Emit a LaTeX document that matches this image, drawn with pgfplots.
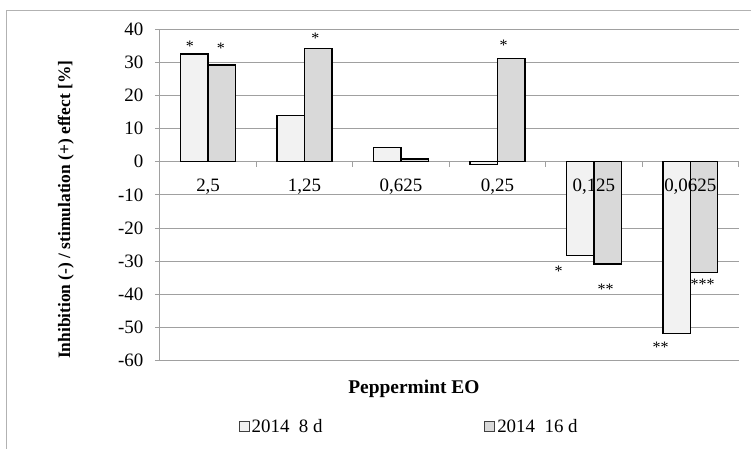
\documentclass[border=0pt]{standalone}
\usepackage{pgfplots}
\pgfplotsset{compat=1.18}
\usepackage{fontspec}
\setmainfont{Liberation Serif}
\definecolor{barA}{HTML}{F2F2F2}
\definecolor{barB}{HTML}{D9D9D9}
\definecolor{gridc}{HTML}{A0A0A0}
\pgfplotsset{
  geom/.style={at={(160bp,88bp)}, anchor=south west,
    scale only axis, width=579bp, height=332bp,
    xmin=-0.5, xmax=5.5, ymin=-60, ymax=40},
}
\begin{document}
\begin{tikzpicture}
\path (0,0) rectangle (751bp,449bp);
\draw[black!30, line width=1bp] (7bp,0) -- (7bp,438bp) -- (751bp,438bp);
\begin{axis}[
  geom,
  ytick={-60,-50,...,40},
  axis y line*=left, axis x line*=middle,
  axis line style={gridc, line width=0.9bp},
  ymajorgrids, grid style={gridc, line width=0.9bp},
  tick align=outside, major tick length=5bp,
  tick style={gridc, line width=0.9bp},
  xtick={0.5,1.5,2.5,3.5,4.5,5.5}, xticklabels={},
  tick label style={font=\fontsize{19}{22}\selectfont},
  yticklabel style={xshift=-8bp},
  /pgf/number format/assume math mode=true,
  ylabel={Inhibition (-) / stimulation (+) effect [\%]},
  ylabel style={font=\bfseries\fontsize{17.5}{20}\selectfont, at={(axis description cs:-0.1625,0.455)}, anchor=center},
  xlabel={Peppermint EO},
  xlabel style={font=\bfseries\fontsize{19.5}{22}\selectfont, at={(axis description cs:0.439,-0.084)}, anchor=center},
  legend style={draw=none, fill=none, at={(axis description cs:0.431,-0.199)}, anchor=center,
    legend columns=2, font=\fontsize{19}{22}\selectfont, inner sep=0pt,
    /tikz/every even column/.append style={column sep=160bp},
    cells={anchor=west}},
  legend cell align=left,
]
\addplot[ybar, bar width=27.5bp, bar shift=-13.75bp, fill=barA, draw=black, line width=1.4bp,
  legend image code/.code={\draw[fill=barA, draw=black!75, line width=0.8bp] (0bp,-5bp) rectangle (10bp,5bp);}]
  coordinates {(0,32.5) (1,13.9) (2,4.3) (3,-0.8) (4,-28.2) (5,-51.8)};
\addplot[ybar, bar width=27.5bp, bar shift=13.75bp, fill=barB, draw=black, line width=1.4bp,
  legend image code/.code={\draw[fill=barB, draw=black!75, line width=0.8bp] (0bp,-5bp) rectangle (10bp,5bp);}]
  coordinates {(0,29.1) (1,34.1) (2,0.8) (3,31.1) (4,-30.8) (5,-33.4)};
\addplot[forget plot, draw=none, mark=none, nodes near coords, point meta=explicit symbolic,
  nodes near coords style={anchor=center, font=\fontsize{16}{16}\selectfont, yshift=-1.5bp, inner sep=0pt}]
  table[meta=m] {
x y m
-0.189 35.2 *
0.132 34.6 *
1.113 37.7 *
3.065 35.4 *
3.635 -32.7 *
4.122 -37.9 **
4.692 -55.4 **
5.127 -36.4 ***
};
\legend{2014~~8 d, 2014~~16 d}
\end{axis}
\begin{axis}[
  geom,
  axis x line*=middle, axis y line=none,
  axis line style={draw=none},
  ytick=\empty,
  xtick={0,1,2,3,4,5},
  xticklabels={{2,5},{1,25},{0,625},{0,25},{0,125},{0,0625}},
  major tick length=0pt, tick style={draw=none},
  xticklabel style={anchor=base, yshift=-30bp, font=\fontsize{19}{22}\selectfont},
]
\end{axis}
\end{tikzpicture}
\end{document}
